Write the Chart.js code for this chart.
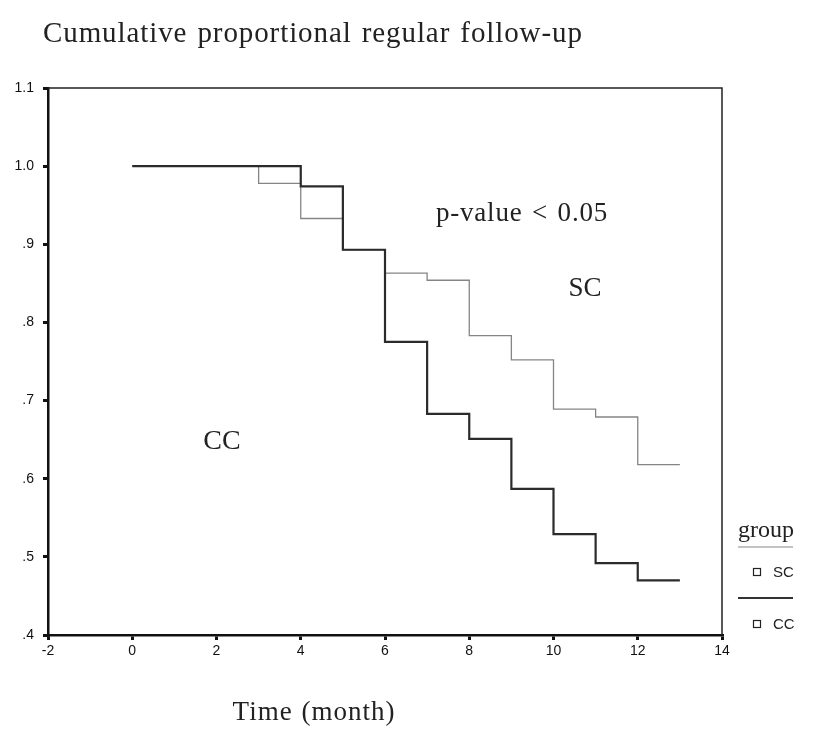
<!DOCTYPE html>
<html>
<head>
<meta charset="utf-8">
<script src="https://cdn.jsdelivr.net/npm/chart.js@4/dist/chart.umd.min.js"></script>
<style>
html, body { margin: 0; background: #fff; }
#wrap { width: 813px; height: 742px; }
</style>
</head>
<body>
<div id="wrap"><canvas id="myChart" width="813" height="742"></canvas></div>
<script>
// Kaplan-Meier style step data
var scTime = [0, 3, 4, 5, 6, 7, 8, 9, 10, 11, 12, 13]
var scSurv = [1.0, 0.978, 0.933, 0.893, 0.863, 0.854, 0.783, 0.752, 0.689, 0.679, 0.618, 0.618]
var ccTime = [0, 4, 5, 6, 7, 8, 9, 10, 11, 12, 13]
var ccSurv = [1.0, 0.974, 0.893, 0.775, 0.683, 0.651, 0.587, 0.529, 0.492, 0.470, 0.470]

var xTicks = [-2, 0, 2, 4, 6, 8, 10, 12, 14]
var yTicks = [0.4, 0.5, 0.6, 0.7, 0.8, 0.9, 1.0, 1.1]

function toPoints(xs, ys) {
    var pts = []
    for (var i = 0; i < xs.length; i++) {
        pts.push({ x: xs[i], y: ys[i] })
    }
    return pts
}

function yLabel(v) {
    var s = v.toFixed(1)
    if (v < 1) s = s.replace(/^0/, '')
    return s
}

// frame, texts and legend drawn over the chart
const decor = {
    id: 'decor',
    afterDraw(chart) {
        var ctx = chart.ctx
        var a = chart.chartArea
        ctx.save()

        ctx.strokeStyle = '#222'
        ctx.lineWidth = 1.5
        ctx.beginPath()
        ctx.moveTo(a.left, a.top)
        ctx.lineTo(a.right, a.top)
        ctx.lineTo(a.right, a.bottom)
        ctx.stroke()

        ctx.fillStyle = '#222'
        ctx.textBaseline = 'alphabetic'
        ctx.textAlign = 'left'
        ctx.font = '29px "Liberation Serif"'
        ctx.letterSpacing = '0.9px'
        ctx.wordSpacing = '2px'
        ctx.fillText('Cumulative proportional regular follow-up', 43, 42)

        ctx.textAlign = 'center'
        ctx.font = '27px "Liberation Serif"'
        ctx.letterSpacing = '1px'
        ctx.wordSpacing = '1px'
        ctx.fillText('Time (month)', 314, 720)

        ctx.font = '27px "Liberation Serif"'
        ctx.letterSpacing = '0.8px'
        ctx.wordSpacing = '2px'
        ctx.fillText('p-value < 0.05', 522, 221)
        ctx.letterSpacing = '0px'
        ctx.wordSpacing = '0px'
        ctx.font = '27px "Liberation Serif"'
        ctx.fillText('SC', 585, 296)
        ctx.font = '28px "Liberation Serif"'
        ctx.fillText('CC', 222, 449)

        // legend
        ctx.textAlign = 'left'
        ctx.font = '24px "Liberation Serif"'
        ctx.fillText('group', 738, 537)

        ctx.lineWidth = 1.2
        ctx.strokeStyle = '#888'
        ctx.beginPath()
        ctx.moveTo(738, 547)
        ctx.lineTo(793, 547)
        ctx.stroke()
        ctx.lineWidth = 2
        ctx.strokeStyle = '#333'
        ctx.beginPath()
        ctx.moveTo(738, 598)
        ctx.lineTo(793, 598)
        ctx.stroke()

        ctx.lineWidth = 1.2
        ctx.strokeStyle = '#222'
        ctx.strokeRect(753.5, 568.5, 7, 7)
        ctx.strokeRect(753.5, 620.5, 7, 7)
        ctx.font = '15px "Liberation Sans"'
        ctx.textBaseline = 'middle'
        ctx.fillText('SC', 773, 573)
        ctx.fillText('CC', 773, 625)

        ctx.restore()
    }
}

const config = {
    type: 'line',
    data: {
        datasets: [
            {
                label: 'CC',
                data: toPoints(ccTime, ccSurv),
                borderColor: '#2b2b2b',
                borderWidth: 2.2,
                stepped: true,
                pointRadius: 0,
                fill: false
            },
            {
                label: 'SC',
                data: toPoints(scTime, scSurv),
                borderColor: '#858585',
                borderWidth: 1.3,
                stepped: true,
                pointRadius: 0,
                fill: false
            }
        ]
    },
    options: {
        responsive: false,
        animation: false,
        layout: { padding: { top: 88, right: 91, left: 0, bottom: 0 } },
        plugins: {
            legend: { display: false },
            tooltip: { enabled: false }
        },
        scales: {
            x: {
                type: 'linear',
                min: -2,
                max: 14,
                afterBuildTicks: function (s) { s.ticks = xTicks.map(function (v) { return { value: v } }) },
                afterFit: function (s) { s.height = 107 },
                border: { color: '#111', width: 2.5 },
                grid: { drawOnChartArea: false, drawTicks: true, tickLength: 5, color: '#111', lineWidth: 3 },
                ticks: {
                    color: '#111',
                    padding: 3,
                    maxRotation: 0,
                    font: { family: 'Liberation Sans', size: 14 }
                }
            },
            y: {
                type: 'linear',
                min: 0.4,
                max: 1.1,
                afterBuildTicks: function (s) { s.ticks = yTicks.map(function (v) { return { value: v } }) },
                afterFit: function (s) { s.width = 48 },
                border: { color: '#111', width: 2.5 },
                grid: { drawOnChartArea: false, drawTicks: true, tickLength: 5, color: '#111', lineWidth: 3 },
                ticks: {
                    color: '#111',
                    padding: 9,
                    font: { family: 'Liberation Sans', size: 14 },
                    callback: function (v) { return yLabel(v) }
                }
            }
        }
    },
    plugins: [decor]
}

const myChart = new Chart(document.getElementById('myChart'), config)
</script>
</body>
</html>
